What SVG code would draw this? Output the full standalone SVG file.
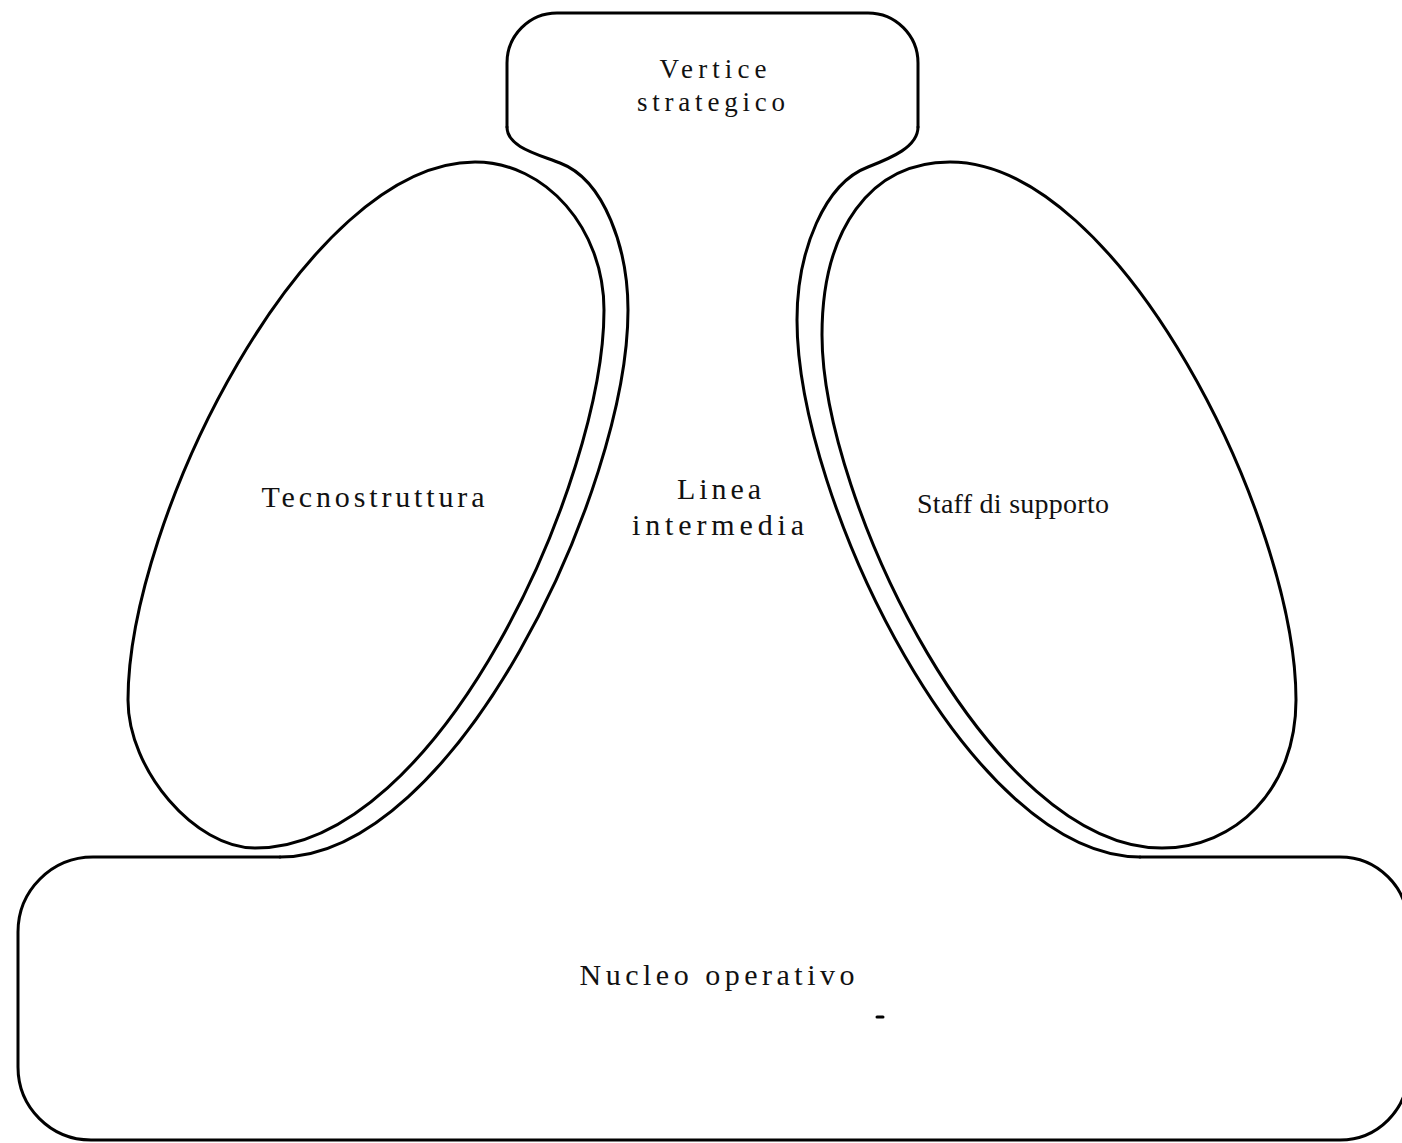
<svg xmlns="http://www.w3.org/2000/svg" width="1402" height="1143" viewBox="0 0 1402 1143">
  <style>
    .outline { fill: none; stroke: #000; stroke-width: 3; stroke-linecap: round; stroke-linejoin: round; }
    .label { font-family: "Liberation Serif", "Times New Roman", serif; font-size: 30px; fill: #111; text-anchor: middle; }
    .label-top { font-size: 27px; }
    .label-tight { font-size: 28px; }
  </style>
  <rect width="1402" height="1143" fill="#fff"/>

  <!-- Strategic apex: rounded box open at the bottom, its sides run into the middle-line bands -->
  <g id="vertice-strategico">
    <path class="outline" d="M507,127 V63 A50,50 0 0 1 557,13 H868 A50,50 0 0 1 918,63 V127"/>
    <text class="label label-top" x="713" y="78" textLength="107" lengthAdjust="spacing">Vertice</text>
    <text class="label label-top" x="711" y="111" textLength="148" lengthAdjust="spacing">strategico</text>
  </g>

  <!-- Middle line: two bands hugging the inner sides of the ellipses -->
  <g id="linea-intermedia">
    <path class="outline" d="M507,127 C507,147 537,154 560,163 C605,180 628,250 628,310 C628,490 455,857 280,857"/>
    <path class="outline" d="M918,127 C918,147 891,158 868,167 C825,183 797,250 797,320 C797,500 970,857 1140,857"/>
    <text class="label" x="719" y="499" textLength="84" lengthAdjust="spacing">Linea</text>
    <text class="label" x="718" y="535" textLength="172" lengthAdjust="spacing">intermedia</text>
  </g>

  <!-- Technostructure (left ellipse) -->
  <g id="tecnostruttura">
    <path class="outline" d="M475,162 C546,162 604,229 604,310 C604,480 440,848 255,848 C195,848 128,770 128,700 C128,520 305,162 475,162 Z"/>
    <text class="label" x="373" y="507" textLength="223" lengthAdjust="spacing">Tecnostruttura</text>
  </g>

  <!-- Support staff (right ellipse) -->
  <g id="staff-di-supporto">
    <path class="outline" d="M950,162 C870,162 822,230 822,335 C822,500 990,848 1162,848 C1235,848 1296,790 1296,700 C1296,520 1120,162 950,162 Z"/>
    <text class="label label-tight" x="1013" y="513" textLength="192" lengthAdjust="spacing">Staff di supporto</text>
  </g>

  <!-- Operating core: wide rounded box, top edge open between the two bands -->
  <g id="nucleo-operativo">
    <path class="outline" d="M280,857 H93 A75,75 0 0 0 18,932 V1067 A73,73 0 0 0 91,1140 H1340 A68,68 0 0 0 1408,1072 V925 A68,68 0 0 0 1340,857 H1140"/>
    <text class="label" x="717" y="985" textLength="275" lengthAdjust="spacing">Nucleo operativo</text>
  </g>

  <!-- small printed mark -->
  <g id="marks">
    <line class="outline" x1="877" y1="1017" x2="883" y2="1017"/>
  </g>
</svg>
